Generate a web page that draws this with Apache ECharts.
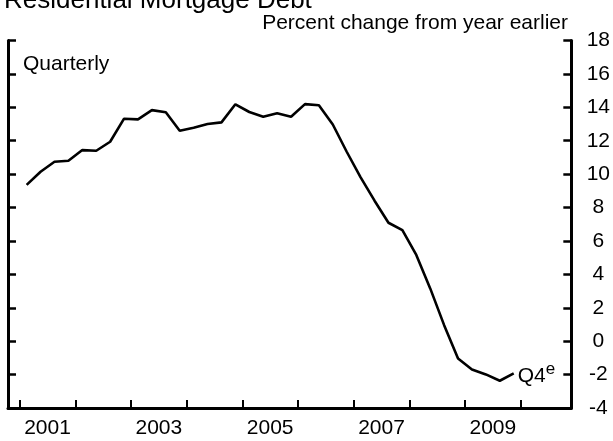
<!DOCTYPE html>
<html>
<head>
<meta charset="utf-8">
<script src="https://cdn.jsdelivr.net/npm/echarts@6/dist/echarts.min.js"></script>
<style>
html,body{margin:0;padding:0;background:#fff;}
#chart{width:613px;height:441px;}
</style>
</head>
<body>
<div id="chart"></div>
<script>
// Data: quarterly percent change from year earlier, residential mortgage debt
const quarters = [
  '2001Q1','2001Q2','2001Q3','2001Q4',
  '2002Q1','2002Q2','2002Q3','2002Q4',
  '2003Q1','2003Q2','2003Q3','2003Q4',
  '2004Q1','2004Q2','2004Q3','2004Q4',
  '2005Q1','2005Q2','2005Q3','2005Q4',
  '2006Q1','2006Q2','2006Q3','2006Q4',
  '2007Q1','2007Q2','2007Q3','2007Q4',
  '2008Q1','2008Q2','2008Q3','2008Q4',
  '2009Q1','2009Q2','2009Q3','2009Q4'
];
const values = [
  9.36, 10.14, 10.74, 10.80,
  11.44, 11.40, 11.94, 13.32,
  13.28, 13.83, 13.70, 12.60,
  12.78, 13.00, 13.10, 14.18,
  13.72, 13.44, 13.64, 13.44,
  14.19, 14.12, 12.97, 11.34,
  9.81, 8.41, 7.09, 6.65,
  5.16, 3.16, 0.96, -1.04,
  -1.69, -1.99, -2.37, -1.93
];
const yearTicks = [2001, 2002, 2003, 2004, 2005, 2006, 2007, 2008, 2009, 2010];
const yearLabels = ['2001', '2003', '2005', '2007', '2009'];
const yMin = -4, yMax = 18, yStep = 2;

const toX = q => parseInt(q.slice(0, 4)) + (parseInt(q.slice(5)) - 0.5) / 4;
const seriesData = quarters.map((q, i) => [toX(q), values[i]]);
const labelPositions = yearLabels.map(y => parseInt(y) + 0.5);

const FONT = 'Liberation Sans, Arial, sans-serif';
const axisLineStyle = { color: '#000', width: 3 };

const chart = echarts.init(document.getElementById('chart'), null, { renderer: 'canvas' });
chart.setOption({
  animation: false,
  backgroundColor: '#fff',
  textStyle: { fontFamily: FONT },
  title: [
    { text: 'Residential Mortgage Debt', left: -1, top: -17,
      textStyle: { fontFamily: FONT, fontSize: 26, fontWeight: 'normal', color: '#000' } },
    { text: 'Percent change from year earlier', right: 40, top: 8,
      textStyle: { fontFamily: FONT, fontSize: 21, fontWeight: 'normal', color: '#000' } }
  ],
  graphic: [
    { type: 'text', left: 23, top: 54,
      style: { text: 'Quarterly', font: '21px ' + FONT, fill: '#000' } }
  ],
  grid: { left: 8, right: 36, top: 40.5, bottom: 33, containLabel: false },
  xAxis: {
    type: 'value', min: 2000.79, max: 2010.91,
    splitLine: { show: false },
    axisLine: { show: true, onZero: false, lineStyle: axisLineStyle },
    axisTick: { show: true, inside: true, length: 8, lineStyle: { color: '#000', width: 2 },
      customValues: yearTicks },
    axisLabel: { show: true, customValues: labelPositions, margin: 10,
      formatter: v => String(Math.floor(v)),
      fontFamily: FONT, fontSize: 21, color: '#000' }
  },
  yAxis: [
    { type: 'value', position: 'left', min: yMin, max: yMax, interval: yStep,
      splitLine: { show: false },
      axisLine: { show: true, onZero: false, lineStyle: axisLineStyle },
      axisTick: { show: true, inside: true, length: 8, lineStyle: { color: '#000', width: 2.5 } },
      axisLabel: { show: false } },
    { type: 'value', position: 'right', min: yMin, max: yMax, interval: yStep,
      splitLine: { show: false },
      axisLine: { show: true, onZero: false, lineStyle: axisLineStyle },
      axisTick: { show: true, inside: true, length: 8, lineStyle: { color: '#000', width: 2.5 } },
      axisLabel: { show: true, margin: 27, align: 'center',
        fontFamily: FONT, fontSize: 21, color: '#000' } }
  ],
  series: [{
    type: 'line', yAxisIndex: 0, data: seriesData,
    showSymbol: false, symbol: 'none',
    lineStyle: { color: '#000', width: 2.6 },
    endLabel: {
      show: true, distance: 4,
      formatter: '{q|Q4}{e|e}',
      rich: {
        q: { fontFamily: FONT, fontSize: 21, color: '#000', lineHeight: 26, verticalAlign: 'bottom', padding: [7, 0, 0, 0] },
        e: { fontFamily: FONT, fontSize: 17, color: '#000', lineHeight: 16, verticalAlign: 'top' }
      }
    }
  }]
});
</script>
</body>
</html>
